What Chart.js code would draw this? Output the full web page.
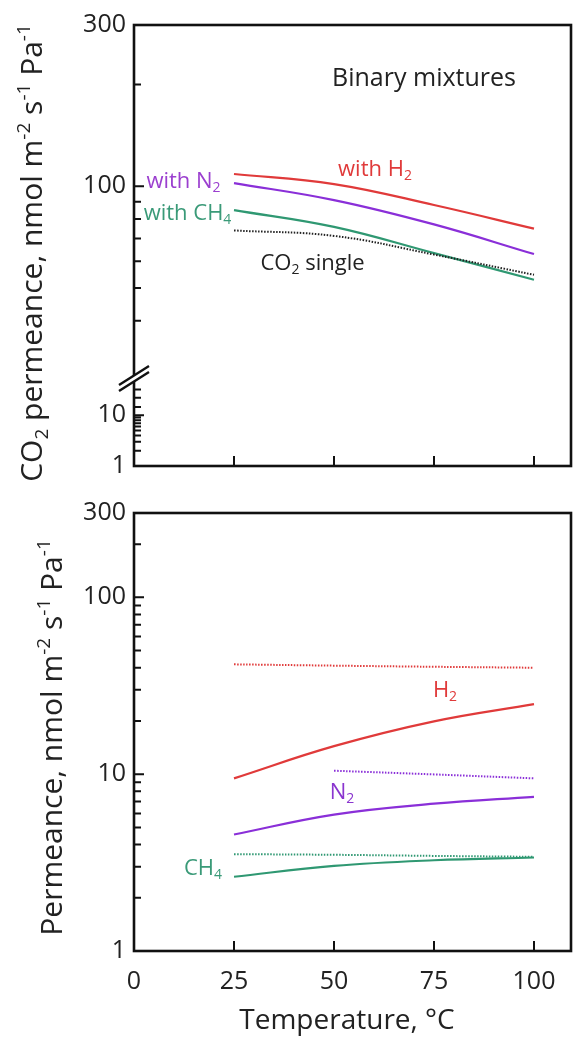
<!DOCTYPE html>
<html>
<head>
<meta charset="utf-8">
<script src="https://cdn.jsdelivr.net/npm/chart.js@4.4.1/dist/chart.umd.min.js"></script>
<style>
  html, body { margin: 0; padding: 0; background: #fff; }
  .panel { position: relative; width: 575px; }
  #topPanel { height: 490px; }
  #bottomPanel { height: 547px; }
</style>
</head>
<body>
<div class="panel" id="topPanel"><canvas id="topChart"></canvas></div>
<div class="panel" id="bottomPanel"><canvas id="bottomChart"></canvas></div>
<script>
// temperatures, degC
const temps = [25, 50, 75, 100];
const tempsFrom50 = [50, 75, 100];

// top: CO2 permeance, nmol m-2 s-1 Pa-1
const co2WithH2 = [108.7, 101.5, 88.0, 74.9];
const co2WithN2 = [102.2, 91.0, 77.1, 63.0];
const co2WithCH4 = [85.0, 75.8, 63.4, 52.9];
const co2Single = [74.0, 71.3, 62.8, 54.7];

// bottom: permeance of the second gas (solid = in mixture, dotted = single gas)
const h2Mix = [9.47, 14.4, 19.9, 24.9];
const h2Single = [41.8, 41.1, 40.5, 40.0];
const n2Mix = [4.56, 5.91, 6.81, 7.45];
const n2Single = [10.46, 9.97, 9.47];
const ch4Mix = [2.63, 3.03, 3.26, 3.38];
const ch4Single = [3.53, 3.50, 3.45, 3.41];

const xTickValues = [0, 25, 50, 75, 100];
const yTickLabels = [1, 10, 100, 300];
const topMinorTicks = [2, 3, 4, 5, 6, 7, 8, 9, 12.5, 16, 20, 40, 50, 60, 70, 80, 90, 200];
const bottomMinorTicks = [2, 3, 4, 5, 6, 7, 8, 9, 20, 30, 40, 50, 60, 70, 80, 90, 200];

const RED = '#e03a3a';
const PURPLE = '#8a2fd8';
const GREEN = '#2f9872';
const DARK = '#222';

Chart.defaults.font.family = '"Open Sans", sans-serif';
Chart.defaults.font.size = 25;
Chart.defaults.color = DARK;

// log axis with a break: 1..10 squeezed at the bottom, 27..300 full size
const BRK_LOW = 10, BRK_HIGH = 27;
function brokenU(v) {
    if (v <= BRK_LOW) return 51 * Math.log10(v);
    if (v < BRK_HIGH) return 51 + 86 * Math.log10(v / BRK_LOW);
    return 51 + 86 * Math.log10(BRK_HIGH / BRK_LOW) + 340 * Math.log10(v / BRK_HIGH);
}

class BrokenLogScale extends Chart.LinearScale {
    static id = 'brokenLog';
    buildTicks() {
        return yTickLabels.map(v => ({ value: v }));
    }
    getPixelForValue(v) {
        const u0 = brokenU(this.min), u1 = brokenU(this.max);
        return this.getPixelForDecimal((brokenU(v) - u0) / (u1 - u0));
    }
    getValueForPixel(p) {
        // bisection, only used for interaction
        let lo = this.min, hi = this.max;
        for (let i = 0; i < 40; i++) {
            const mid = Math.sqrt(lo * hi);
            if (this.getPixelForValue(mid) > p) lo = mid; else hi = mid;
        }
        return lo;
    }
}
Chart.register(BrokenLogScale);

function pts(xs, ys) {
    return xs.map((x, i) => ({ x: x, y: ys[i] }));
}

function line(xs, ys, color, dotted) {
    return {
        data: pts(xs, ys),
        borderColor: color,
        borderWidth: dotted ? 2 : 2.2,
        borderDash: dotted ? [1.5, 1.5] : [],
        pointRadius: 0,
        fill: false,
        tension: 0.4
    };
}

// superscript / subscript text on canvas
function drawRich(ctx, t) {
    const size = t.size;
    const small = Math.round(size * 0.62);
    const fontFor = m => (m ? small : size) + 'px "Open Sans", sans-serif';
    ctx.save();
    ctx.translate(t.x, t.y);
    if (t.angle) ctx.rotate(t.angle);
    ctx.fillStyle = t.color;
    ctx.textBaseline = 'alphabetic';
    ctx.textAlign = 'left';
    let w = 0;
    for (const [s, m] of t.parts) { ctx.font = fontFor(m); w += ctx.measureText(s).width; }
    let cx = t.align === 'left' ? 0 : -w / 2;
    for (const [s, m] of t.parts) {
        ctx.font = fontFor(m);
        const dy = m === 'sub' ? size * 0.2 : m === 'sup' ? -size * 0.4 : 0;
        ctx.fillText(s, cx, dy);
        cx += ctx.measureText(s).width;
    }
    ctx.restore();
}

const textLayer = {
    id: 'textLayer',
    afterDraw(chart, args, opts) {
        for (const t of opts.items) drawRich(chart.ctx, t);
    }
};

const frameTicks = {
    id: 'frameTicks',
    afterDatasetsDraw(chart, args, opts) {
        const { ctx, chartArea: a, scales } = chart;
        const x = scales.x, y = scales.y;
        ctx.save();
        ctx.strokeStyle = '#111';
        ctx.lineWidth = 2;
        ctx.beginPath();
        for (const v of opts.yMajor) {
            const p = y.getPixelForValue(v);
            ctx.moveTo(a.left, p); ctx.lineTo(a.left + 10, p);
        }
        for (const v of opts.yMinor) {
            const p = y.getPixelForValue(v);
            ctx.moveTo(a.left, p); ctx.lineTo(a.left + 7, p);
        }
        for (const v of opts.xTicks) {
            const p = x.getPixelForValue(v);
            ctx.moveTo(p, a.bottom); ctx.lineTo(p, a.bottom - 10);
        }
        ctx.stroke();
        ctx.lineWidth = 2.6;
        ctx.strokeRect(a.left, a.top, a.right - a.left, a.bottom - a.top);
        if (opts.breakAt) {
            const by = y.getPixelForValue(opts.breakAt);
            const bx = a.left;
            ctx.fillStyle = '#fff';
            ctx.beginPath();
            ctx.moveTo(bx - 15, by + 9.5 - 3); ctx.lineTo(bx + 15, by - 9.5 - 3);
            ctx.lineTo(bx + 15, by - 9.5 + 3); ctx.lineTo(bx - 15, by + 9.5 + 3);
            ctx.closePath();
            ctx.fill();
            ctx.lineWidth = 2.4;
            ctx.beginPath();
            ctx.moveTo(bx - 15, by + 9.5 - 3); ctx.lineTo(bx + 15, by - 9.5 - 3);
            ctx.moveTo(bx - 15, by + 9.5 + 3); ctx.lineTo(bx + 15, by - 9.5 + 3);
            ctx.stroke();
        }
        ctx.restore();
    }
};

const xScale = {
    type: 'linear',
    min: 0,
    max: 109.25,
    grid: { display: false },
    border: { display: false }
};

function yScale(type) {
    return {
        type: type,
        min: 1,
        max: 300,
        grid: { display: false, drawTicks: false },
        border: { display: false },
        afterBuildTicks: s => { s.ticks = yTickLabels.map(v => ({ value: v })); },
        afterFit: s => { s.width = 134; },
        ticks: {
            autoSkip: false,
            padding: 8,
            callback: v => String(v)
        }
    };
}

const yTitleParts = [['nmol m', ''], ['-2', 'sup'], [' s', ''], ['-1', 'sup'], [' Pa', ''], ['-1', 'sup']];

new Chart(document.getElementById('topChart'), {
    type: 'line',
    data: {
        datasets: [
            line(temps, co2Single, DARK, true),
            line(temps, co2WithCH4, GREEN, false),
            line(temps, co2WithN2, PURPLE, false),
            line(temps, co2WithH2, RED, false)
        ]
    },
    options: {
        responsive: true,
        maintainAspectRatio: false,
        animation: false,
        events: [],
        layout: { padding: { top: 25, right: 4, bottom: 24, left: 0 } },
        scales: {
            x: Object.assign({}, xScale, { display: false }),
            y: yScale('brokenLog')
        },
        plugins: {
            legend: { display: false },
            tooltip: { enabled: false },
            frameTicks: { yMajor: [10, 100], yMinor: topMinorTicks, xTicks: [25, 50, 75, 100], breakAt: BRK_HIGH },
            textLayer: {
                items: [
                    { parts: [['Binary mixtures', '']], x: 424, y: 86, size: 25, color: DARK },
                    { parts: [['with H', ''], ['2', 'sub']], x: 375, y: 176, size: 22, color: RED },
                    { parts: [['with N', ''], ['2', 'sub']], x: 183.5, y: 188, size: 22, color: '#9b3fcf' },
                    { parts: [['with CH', ''], ['4', 'sub']], x: 187.5, y: 220, size: 22, color: '#3a9a78' },
                    { parts: [['CO', ''], ['2', 'sub'], [' single', '']], x: 312.5, y: 270, size: 22, color: DARK },
                    { parts: [['CO', ''], ['2', 'sub'], [' permeance, ', '']].concat(yTitleParts),
                      x: 42, y: 253, size: 30, color: DARK, angle: -Math.PI / 2 }
                ]
            }
        }
    },
    plugins: [frameTicks, textLayer]
});

new Chart(document.getElementById('bottomChart'), {
    type: 'line',
    data: {
        datasets: [
            line(temps, h2Single, RED, true),
            line(tempsFrom50, n2Single, PURPLE, true),
            line(temps, ch4Single, GREEN, true),
            line(temps, ch4Mix, GREEN, false),
            line(temps, n2Mix, PURPLE, false),
            line(temps, h2Mix, RED, false)
        ]
    },
    options: {
        responsive: true,
        maintainAspectRatio: false,
        animation: false,
        events: [],
        layout: { padding: { top: 20, right: 4, bottom: 0, left: 0 } },
        scales: {
            x: Object.assign({}, xScale, {
                afterBuildTicks: s => { s.ticks = xTickValues.map(v => ({ value: v })); },
                afterFit: s => { s.height = 86; },
                grid: { display: false, drawTicks: false },
                ticks: { autoSkip: false, maxRotation: 0, padding: 16, callback: v => String(v) }
            }),
            y: yScale('logarithmic')
        },
        plugins: {
            legend: { display: false },
            tooltip: { enabled: false },
            frameTicks: { yMajor: [10, 100], yMinor: bottomMinorTicks, xTicks: [25, 50, 75, 100] },
            textLayer: {
                items: [
                    { parts: [['H', ''], ['2', 'sub']], x: 445, y: 207, size: 22, color: RED },
                    { parts: [['N', ''], ['2', 'sub']], x: 342, y: 309, size: 22, color: '#8a35cf' },
                    { parts: [['CH', ''], ['4', 'sub']], x: 203, y: 385, size: 22, color: '#3a9a78' },
                    { parts: [['Temperature, °C', '']], x: 347, y: 539, size: 28, color: DARK },
                    { parts: [['Permeance, ', '']].concat(yTitleParts),
                      x: 62, y: 247.5, size: 30, color: DARK, angle: -Math.PI / 2 }
                ]
            }
        }
    },
    plugins: [frameTicks, textLayer]
});
</script>
</body>
</html>
